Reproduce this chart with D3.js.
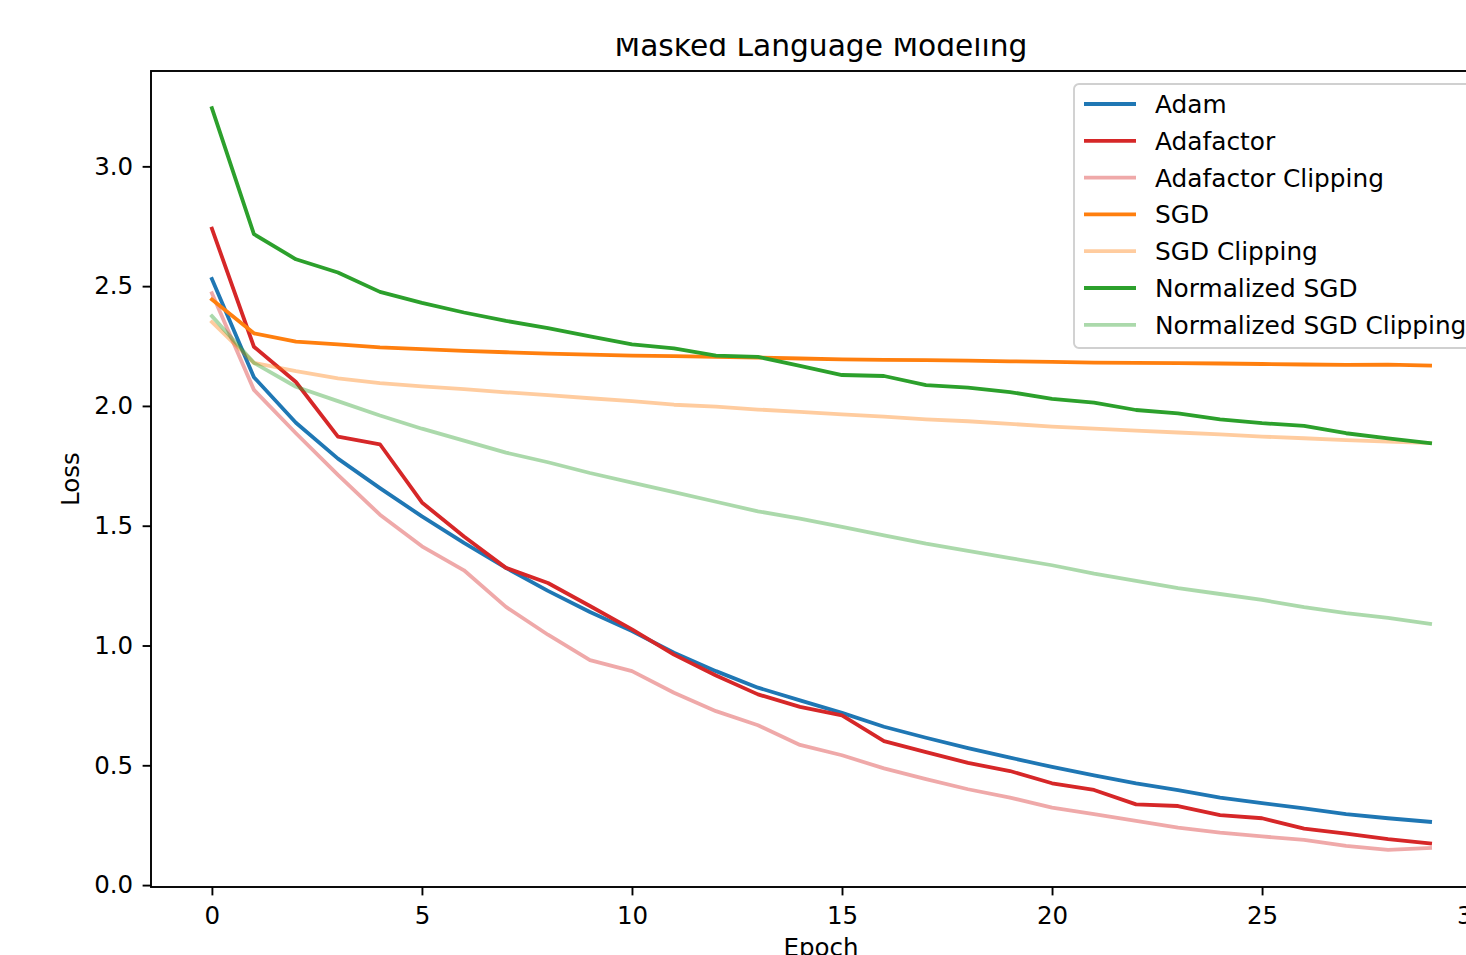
<!DOCTYPE html>
<html>
<head>
<meta charset="utf-8">
<script src="https://cdn.jsdelivr.net/npm/d3@7"></script>
<style>
  body { margin: 0; background: #fff; overflow: hidden; }
  svg { display: block; font-family: "DejaVu Sans", sans-serif; }
</style>
</head>
<body>
<div id="chart"></div>
<script>
// data
const epochs = [0, 1, 2, 3, 4, 5, 6, 7, 8, 9, 10, 11, 12, 13, 14, 15, 16, 17, 18, 19, 20, 21, 22, 23, 24, 25, 26, 27, 28, 29];

const adam = [2.53, 2.12, 1.93, 1.78, 1.657, 1.539, 1.428, 1.324, 1.228, 1.14, 1.06, 0.97, 0.893, 0.824, 0.771, 0.719, 0.661, 0.615, 0.572, 0.532, 0.493, 0.458, 0.425, 0.396, 0.365, 0.342, 0.32, 0.296, 0.279, 0.264];
const adafactor = [2.74, 2.247, 2.10, 1.872, 1.84, 1.597, 1.455, 1.324, 1.261, 1.165, 1.067, 0.962, 0.875, 0.796, 0.744, 0.708, 0.601, 0.555, 0.51, 0.476, 0.425, 0.397, 0.337, 0.33, 0.292, 0.279, 0.236, 0.215, 0.192, 0.174];
const adafactorClipping = [2.47, 2.067, 1.886, 1.712, 1.546, 1.414, 1.314, 1.161, 1.045, 0.939, 0.893, 0.803, 0.726, 0.667, 0.585, 0.542, 0.487, 0.442, 0.4, 0.365, 0.323, 0.296, 0.268, 0.24, 0.219, 0.203, 0.189, 0.164, 0.147, 0.155];
const sgd = [2.444, 2.303, 2.268, 2.257, 2.244, 2.237, 2.230, 2.224, 2.218, 2.214, 2.210, 2.208, 2.205, 2.202, 2.198, 2.194, 2.192, 2.191, 2.189, 2.186, 2.184, 2.181, 2.180, 2.179, 2.177, 2.175, 2.173, 2.171, 2.172, 2.168];
const sgdClipping = [2.35, 2.18, 2.145, 2.115, 2.095, 2.082, 2.07, 2.057, 2.045, 2.032, 2.02, 2.005, 1.997, 1.985, 1.975, 1.965, 1.955, 1.944, 1.936, 1.925, 1.914, 1.905, 1.897, 1.889, 1.881, 1.872, 1.865, 1.857, 1.851, 1.845];
const normalizedSgd = [3.243, 2.717, 2.612, 2.557, 2.476, 2.43, 2.39, 2.355, 2.325, 2.29, 2.257, 2.24, 2.21, 2.205, 2.167, 2.129, 2.125, 2.087, 2.076, 2.058, 2.029, 2.014, 1.983, 1.969, 1.944, 1.928, 1.917, 1.886, 1.865, 1.845];
const normalizedSgdClipping = [2.375, 2.18, 2.08, 2.02, 1.96, 1.905, 1.855, 1.805, 1.765, 1.72, 1.68, 1.64, 1.6, 1.56, 1.53, 1.495, 1.46, 1.425, 1.395, 1.365, 1.335, 1.3, 1.27, 1.24, 1.215, 1.19, 1.16, 1.135, 1.115, 1.09];

const seriesNames = ["Adam", "Adafactor", "Adafactor Clipping", "SGD", "SGD Clipping", "Normalized SGD", "Normalized SGD Clipping"];
const seriesValues = [adam, adafactor, adafactorClipping, sgd, sgdClipping, normalizedSgd, normalizedSgdClipping];
const seriesColors = ["#1f77b4", "#d62728", "#d62728", "#ff7f0e", "#ff7f0e", "#2ca02c", "#2ca02c"];
const seriesAlpha = [1, 1, 0.4, 1, 0.4, 1, 0.4];

const xTicks = [0, 5, 10, 15, 20, 25, 30];
const yTicks = [0.0, 0.5, 1.0, 1.5, 2.0, 2.5, 3.0];

const width = 1466, height = 955;
const plot = { left: 151, right: 1491, top: 71, bottom: 887 };

const svg = d3.select("#chart").append("svg")
    .attr("width", width)
    .attr("height", height);

const x = d3.scaleLinear().domain([-1.45, 30.45]).range([plot.left, plot.right]);
const y = d3.scaleLinear().domain([-0.008, 3.398]).range([plot.bottom, plot.top]);

svg.append("clipPath").attr("id", "plot-clip")
    .append("rect")
    .attr("x", plot.left).attr("y", plot.top)
    .attr("width", plot.right - plot.left).attr("height", plot.bottom - plot.top);

// lines
const line = d3.line()
    .x((d, i) => x(epochs[i]))
    .y(d => y(d));

svg.append("g")
    .attr("clip-path", "url(#plot-clip)")
    .selectAll("path")
    .data(seriesValues)
    .join("path")
    .attr("d", line)
    .attr("fill", "none")
    .attr("stroke", (d, i) => seriesColors[i])
    .attr("stroke-opacity", (d, i) => seriesAlpha[i])
    .attr("stroke-width", 3.8)
    .attr("stroke-linejoin", "round")
    .attr("stroke-linecap", "square");

// axes
const xAxis = svg.append("g")
    .attr("transform", `translate(0,${plot.bottom})`)
    .call(d3.axisBottom(x).tickValues(xTicks).tickFormat(d3.format("d")).tickSize(8.4).tickPadding(11))
    .call(g => g.select(".domain").remove());

const yAxis = svg.append("g")
    .attr("transform", `translate(${plot.left},0)`)
    .call(d3.axisLeft(y).tickValues(yTicks).tickFormat(d3.format(".1f")).tickSize(8.4).tickPadding(9.5))
    .call(g => g.select(".domain").remove());

[xAxis, yAxis].forEach(g => {
    g.selectAll("line").attr("stroke", "#000").attr("stroke-width", 1.9);
    g.selectAll("text")
        .attr("fill", "#000")
        .style("font-size", "24.5px")
        .style("font-family", "DejaVu Sans");
});

// spines
svg.append("rect")
    .attr("x", plot.left).attr("y", plot.top)
    .attr("width", plot.right - plot.left).attr("height", plot.bottom - plot.top)
    .attr("fill", "none")
    .attr("stroke", "#000")
    .attr("stroke-width", 1.9);

// labels
svg.append("clipPath").attr("id", "title-clip")
    .append("rect").attr("x", 0).attr("y", 38).attr("width", width).attr("height", 40);

svg.append("text")
    .attr("clip-path", "url(#title-clip)")
    .attr("x", (plot.left + plot.right) / 2)
    .attr("y", 56)
    .attr("text-anchor", "middle")
    .style("font-size", "29.7px")
    .text("Masked Language Modeling");

svg.append("text")
    .attr("x", (plot.left + plot.right) / 2)
    .attr("y", 956)
    .attr("text-anchor", "middle")
    .style("font-size", "24.5px")
    .text("Epoch");

svg.append("text")
    .attr("transform", `translate(79,${(plot.top + plot.bottom) / 2}) rotate(-90)`)
    .attr("text-anchor", "middle")
    .style("font-size", "24.5px")
    .text("Loss");

// legend
const legend = svg.append("g").attr("transform", "translate(1074,84)");
legend.append("rect")
    .attr("width", 430).attr("height", 264)
    .attr("rx", 5)
    .attr("fill", "#fff").attr("fill-opacity", 0.8)
    .attr("stroke", "#d0d0d0").attr("stroke-width", 1.9);

const rows = legend.selectAll("g.row")
    .data(seriesNames)
    .join("g")
    .attr("class", "row")
    .attr("transform", (d, i) => `translate(0,${20 + i * 36.8})`);

rows.append("line")
    .attr("x1", 10).attr("x2", 62)
    .attr("stroke", (d, i) => seriesColors[i])
    .attr("stroke-opacity", (d, i) => seriesAlpha[i])
    .attr("stroke-width", 3.8);

rows.append("text")
    .attr("x", 81).attr("dy", "0.36em")
    .style("font-size", "24.8px")
    .text(d => d);
</script>
</body>
</html>
